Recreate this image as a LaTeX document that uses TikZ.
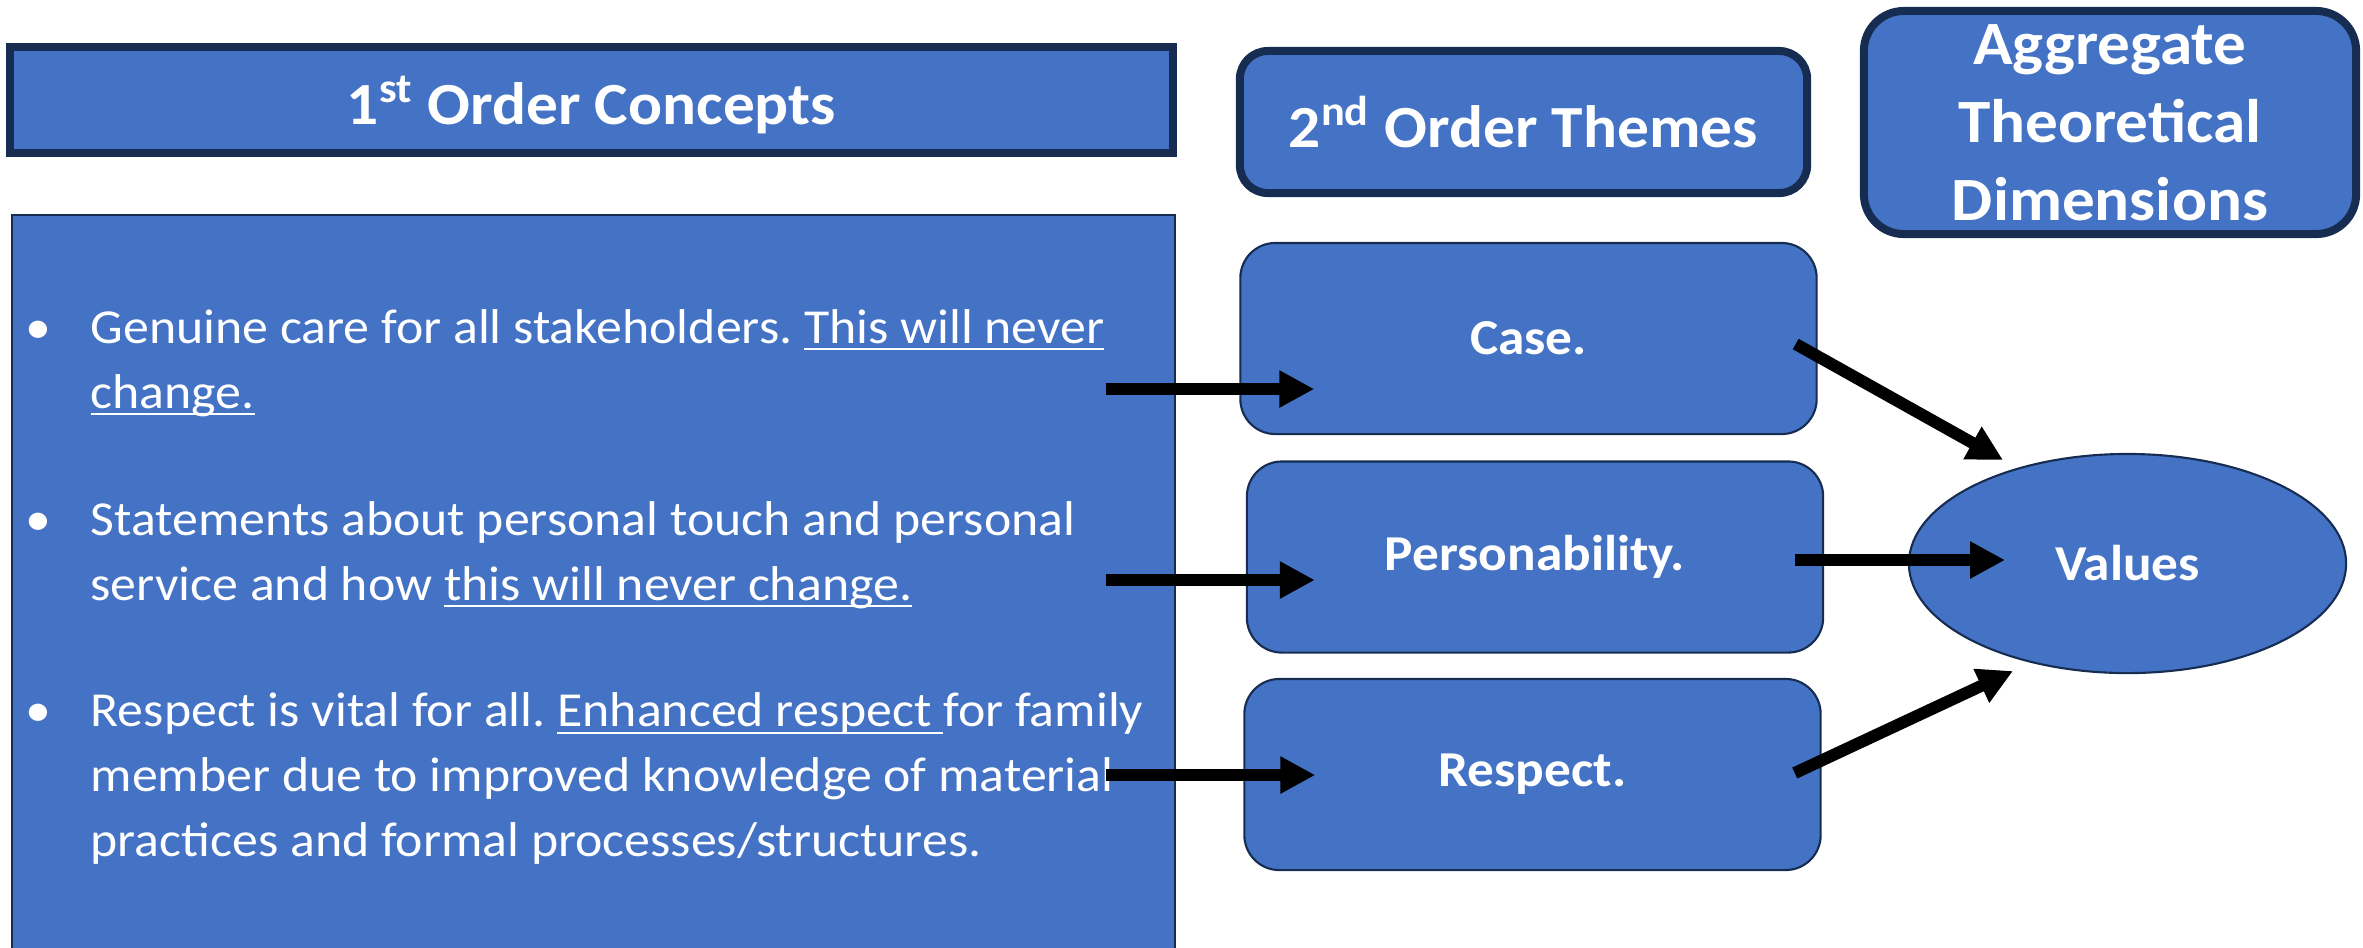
\documentclass[tikz,border=0pt]{standalone}
\usepackage{fontspec}
\setmainfont{Carlito}[FakeStretch=1.06]
\usepackage{xcolor}
\usetikzlibrary{arrows.meta,shapes.geometric}
\definecolor{boxblue}{HTML}{4472C4}
\definecolor{navy}{HTML}{172C51}
% thin underline that sits close to the baseline
\newsavebox{\ulbox}
\newcommand{\undl}[1]{\sbox{\ulbox}{#1}\rlap{\rule[-1.9pt]{\wd\ulbox}{0.55pt}}\usebox{\ulbox}}
\frenchspacing

\begin{document}
\begin{tikzpicture}[x=0.01cm, y=-0.01cm,
  hdr/.style={draw=navy, line width=0.08cm, fill=boxblue, text=white,
    font=\fontsize{17}{22}\selectfont\bfseries, align=center, inner sep=0pt},
  theme/.style={draw=navy, line width=0.6pt, fill=boxblue, text=white,
    rounded corners=0.35cm, minimum width=5.76cm, minimum height=1.91cm,
    inner sep=0pt, font=\fontsize{14.3}{17}\selectfont\bfseries},
  item/.style={text=white, anchor=base west, align=left, inner sep=0pt,
    font=\fontsize{13.9}{18.35}\selectfont},
  flow/.style={line width=0.12cm, -{Triangle[length=0.35cm, width=0.35cm]}}]
  \useasboundingbox (0,0) rectangle (2363,947);

  % column headings
  \node[hdr, text depth=0pt, minimum width=11.63cm, minimum height=1.06cm] (hfirst) at (591.5,100)
    {1\textsuperscript{st} Order Concepts};
  \node[hdr, rounded corners=0.28cm, minimum width=5.67cm, minimum height=1.42cm] (hsecond) at (1523.5,122)
    {2\textsuperscript{nd} Order Themes};
  \node[hdr, text depth=0pt, font=\fontsize{17.5}{22.2}\selectfont\bfseries, rounded corners=0.4cm,
    minimum width=4.92cm, minimum height=2.23cm] (hagg) at (2110,122.5)
    {Aggregate\\Theoretical\\Dimensions};

  % 1st order concepts, runs off the bottom
  \node[draw=navy, line width=0.6pt, fill=boxblue, inner sep=0pt,
    minimum width=11.63cm, minimum height=7.6cm] (lbox) at (593.5,595) {};
  \node[item] (bul1) at (90,408)
    {\llap{•\hspace{11.2pt}}Genuine care for all stakeholders. \undl{This will never}\\
     \undl{change.}};
  \node[item] (bul2) at (90,600)
    {\llap{•\hspace{11.2pt}}Statements about personal touch and personal\\
     service and how \undl{this will never change.}};
  \node[item] (bul3) at (90,856)
    {\llap{•\hspace{11.2pt}}Respect is vital for all. \undl{Enhanced respect }for family\\
     member due to improved knowledge of material\\
     practices and formal processes/structures.};

  % 2nd order themes
  \node[theme] (case) at (1528.5,338.5) {Case.};
  \node[theme] (pers) at (1535,557) {Personability.};
  \node[theme] (resp) at (1532.5,774.5) {Respect.};

  % aggregate dimension
  \node[ellipse, draw=navy, line width=0.6pt, fill=boxblue, text=white, inner sep=0pt,
    minimum width=4.37cm, minimum height=2.19cm,
    font=\fontsize{14.3}{17}\selectfont\bfseries] (values) at (2127.5,563.5) {Values};

  % arrows
  \coordinate (q1) at (1106,389);
  \coordinate (q2) at (1106,580);
  \coordinate (q3) at (1106,775);
  \draw[flow] (q1) -- ([shift={(75,50.5)}]case.west);
  \draw[flow] (q2) -- ([shift={(69,23)}]pers.west);
  \draw[flow] (q3) -- ([shift={(72,0.5)}]resp.west);
  \draw[flow] ([shift={(-22,5.5)}]case.east) -- ([shift={(-124.5,-103.5)}]values.center);
  \draw[flow] ([shift={(-29,3)}]pers.east) -- ([shift={(-122.5,-3.5)}]values.center);
  \draw[flow] ([shift={(-27,-1.5)}]resp.east) -- ([shift={(-114.5,107.5)}]values.center);
\end{tikzpicture}
\end{document}
